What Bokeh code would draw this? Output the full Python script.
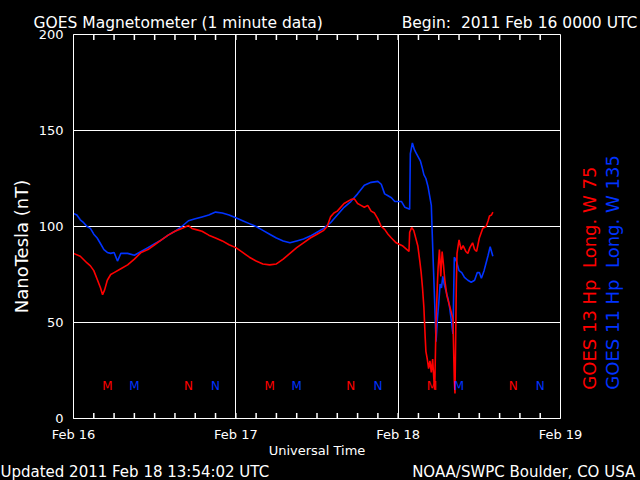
import math
from bokeh.plotting import figure
from bokeh.models import LinearAxis, FixedTicker, Range1d, ColumnDataSource, Title
from bokeh.core.properties import value
from bokeh.embed import file_html
from bokeh.resources import INLINE

# ---------------- data (hours since 2011 Feb 16 00:00 UTC, nT) ----------------
red_t = [0, 1, 2, 2.5, 3.0, 3.5, 4.0, 4.3, 4.6, 5.0, 5.5, 6.0, 7.0, 8.0, 9.0, 10.0,
         11.0, 12.0, 13.0, 14.0, 15.0, 16.0, 17.0, 17.5, 18.0, 19.0, 20.0, 21.0, 22.0,
         23.0, 24.0, 25.0, 26.0, 27.0, 28.0, 29.0, 30.0, 31.0, 32.0, 33.0, 34.0, 35.0,
         36.0, 37.0, 37.5, 38.0, 38.5, 39.0, 40.0, 41.0, 41.5, 42.0, 42.5, 43.0, 43.5,
         44.0, 44.5, 45.0, 45.5, 46.0, 46.5, 47.0, 47.7, 48.7, 49.6, 49.7, 50.0, 50.3,
         50.9, 51.2, 51.4, 51.6, 51.8, 52.0, 52.1, 52.3, 52.5, 52.7, 52.9, 53.1, 53.3,
         53.4, 53.6, 53.8, 53.9, 54.1, 54.3, 54.5, 54.7, 54.9, 55.2, 55.5, 55.8, 56.1,
         56.3, 56.4, 56.6, 56.7, 57.0, 57.3, 57.6, 58.0, 58.3, 58.6, 59.0, 59.3, 59.6,
         60.0, 60.5, 61.0, 61.3, 61.5, 61.8, 62.0]
red_v = [86, 84.5, 81, 79.5, 77, 72.5, 68, 64.5, 67, 72, 75, 76, 78, 80, 83, 86.5,
         88, 90.5, 93, 95.5, 97.5, 99, 100.5, 99, 98.5, 97.5, 95.5, 94, 92.5,
         90.5, 89, 86.5, 84, 82, 80.5, 80, 80.5, 83, 86, 89, 91.5, 94,
         96, 98, 100, 105, 107, 108, 112, 114, 114.5, 112, 111, 110, 111,
         108, 107, 104, 100, 98.5, 96, 94, 91.5, 89.8, 87, 97, 99.5, 98,
         90, 82, 76, 68, 58, 42, 35, 31, 26, 30, 24, 31, 19,
         15, 50, 70, 78, 88, 74, 87, 80, 72, 64, 60, 56, 52,
         20, 13, 70, 86, 93, 88, 90, 87, 86, 89, 91.5, 88, 87,
         94, 99, 100, 103, 105.5, 106, 107.5]

blue_t = [0, 0.5, 1, 1.5, 2, 2.5, 3, 3.5, 4, 4.5, 5, 5.5, 6, 6.5, 7, 8, 9, 10, 11,
          12, 13, 14, 15, 16, 17, 18, 19, 20, 21, 22, 23, 24, 25, 26, 27, 28, 29, 30,
          31, 32, 33, 34, 35, 36, 37, 38, 39, 40, 41, 42, 43, 44, 45, 45.5, 46, 46.5,
          47, 47.5, 48, 48.5, 49, 49.7, 49.8, 50.1, 50.4, 50.7, 51, 51.3, 51.6, 51.8,
          52.1, 52.4, 52.7, 52.9, 53.0, 53.2, 53.4, 53.6, 53.8, 54.0, 54.2, 54.4, 54.6,
          54.8, 55.1, 55.4, 55.6, 55.9, 56.1, 56.3, 56.6, 57.0, 57.4, 57.8, 58.3, 58.8,
          59.3, 59.7, 60.0, 60.3, 60.7, 61.0, 61.3, 61.6, 62.0]
blue_v = [106.8, 106, 103.5, 102, 100, 99, 96, 94, 91, 88, 86.5, 86, 86.5, 82, 86, 86,
          85, 87, 89, 91, 93, 95.5, 97.5, 100, 103, 104, 105, 106, 107.5, 107, 106,
          104.5, 103, 101.5, 100, 98, 96, 94, 92.5, 91.5, 92.5, 93.5, 95, 97, 99, 102,
          106, 110, 113, 117, 121.5, 123, 123.5, 122, 117, 116, 115, 113, 113, 113, 110,
          109, 138, 143.5, 140, 138, 136, 134, 130, 127, 125, 121, 115, 111, 100, 80,
          60, 40, 52, 60, 70, 68, 74, 70, 66, 62, 58, 50, 44, 84, 82, 77, 76, 73.5,
          72, 71, 72, 76, 76, 73, 77, 81, 85, 89.5, 84.5]

# local midnight (M) / noon (N) markers
mark_t = [5, 9, 17, 21, 29, 33, 41, 45, 53, 57, 65, 69]
mark_txt = ["M", "M", "N", "N", "M", "M", "N", "N", "M", "M", "N", "N"]
mark_sat = ["GOES 13", "GOES 11"] * 6
mark_y = 17

day_ticks = [0, 24, 48, 72]
day_labels = ["Feb 16", "Feb 17", "Feb 18", "Feb 19"]
minor_x = list(range(3, 72, 3))
y_ticks = [0, 50, 100, 150, 200]

title_left = "GOES Magnetometer (1 minute data)"
title_right = "Begin:\u00a0 2011 Feb 16 0000 UTC"
foot_left = "Updated 2011 Feb 18 13:54:02 UTC"
foot_right = "NOAA/SWPC Boulder, CO USA"
y_label = "NanoTesla (nT)"
x_label = "Universal Time"
sat13_label = "GOES 13 Hp\u00a0 Long. W 75"
sat11_label = "GOES 11 Hp\u00a0 Long. W 135"

RED = "#ff0000"
BLUE = "#0033ff"
FONT = "DejaVu Sans"
NB = "\u00a0"

# ---------------- figure ----------------
L, R, T, B = 73, 80, 34, 62
W, H = 640, 480
p = figure(width=W, height=H, x_range=Range1d(0, 72), y_range=Range1d(0, 200),
           output_backend="svg", toolbar_location=None,
           min_border_left=L, min_border_right=R, min_border_top=T, min_border_bottom=B,
           background_fill_color="black", border_fill_color="black",
           outline_line_color="white", outline_line_width=1)

# top title line (title + begin time on one row)
p.title.text = title_left + NB * 16 + title_right
p.title.align = "left"
p.title.offset = -40
p.title.text_color = "white"
p.title.text_font = FONT
p.title.text_font_style = "normal"
p.title.text_font_size = "15.5px"
p.title.standoff = 6

# axes
p.xaxis.ticker = FixedTicker(ticks=day_ticks, minor_ticks=[])
p.xaxis.major_label_overrides = {t: s for t, s in zip(day_ticks, day_labels)}
xa = p.xaxis[0]
xa.axis_line_color = "white"
xa.major_tick_line_color = None
xa.minor_tick_line_color = None
xa.major_label_text_color = "white"
xa.major_label_text_font = FONT
xa.major_label_text_font_size = "13px"
xa.major_label_standoff = 2
xa.axis_label = x_label
xa.axis_label_text_color = "white"
xa.axis_label_text_font = FONT
xa.axis_label_text_font_style = "normal"
xa.axis_label_text_font_size = "13px"
xa.axis_label_standoff = -2

p.yaxis.ticker = FixedTicker(ticks=y_ticks, minor_ticks=[])
ya = p.yaxis[0]
ya.axis_line_color = "white"
ya.major_tick_line_color = None
ya.minor_tick_line_color = None
ya.major_label_text_color = "white"
ya.major_label_text_font = FONT
ya.major_label_text_font_size = "13px"
ya.major_label_standoff = 4
ya.axis_label = y_label + NB * 7
ya.axis_label_text_color = "white"
ya.axis_label_text_font = FONT
ya.axis_label_text_font_style = "normal"
ya.axis_label_text_font_size = "18px"
ya.axis_label_standoff = 4

# right-hand satellite labels: one vertical tick label per axis, starting near the bottom
sat_start = 15
for lbl, col, standoff in [(sat13_label, RED, 29), (sat11_label, BLUE, -1)]:
    ax = LinearAxis(ticker=FixedTicker(ticks=[sat_start], minor_ticks=[]),
                    axis_line_color=None, major_tick_line_color=None,
                    minor_tick_line_color=None, major_tick_out=0, major_tick_in=0,
                    minor_tick_out=0, minor_tick_in=0,
                    major_label_overrides={sat_start: lbl},
                    major_label_orientation=math.pi / 2,
                    major_label_text_color=col, major_label_text_font=FONT,
                    major_label_text_font_size="18px", major_label_standoff=standoff)
    p.add_layout(ax, "right")

# footer line
foot = Title(text=foot_left + NB * 30 + foot_right, align="left", offset=-73,
             text_color="white", text_font=FONT, text_font_style="normal",
             text_font_size="15px", standoff=0)
p.add_layout(foot, "below")

p.xgrid.ticker = FixedTicker(ticks=day_ticks)
p.ygrid.ticker = FixedTicker(ticks=y_ticks)
p.xgrid.grid_line_color = "white"
p.ygrid.grid_line_color = "white"
p.xgrid.grid_line_width = 1
p.ygrid.grid_line_width = 1

# inward minor ticks on bottom and top edges (every 3 h)
tick_len = 2.8  # data units
ticks = ColumnDataSource(dict(x=minor_x + minor_x,
                              y0=[0] * len(minor_x) + [200] * len(minor_x),
                              y1=[tick_len] * len(minor_x) + [200 - tick_len] * len(minor_x)))
p.segment(x0="x", y0="y0", x1="x", y1="y1", source=ticks, line_color="white", line_width=1.5)

# series
p.line(blue_t, blue_v, line_color=BLUE, line_width=1.6)
p.line(red_t, red_v, line_color=RED, line_width=1.6)

src = ColumnDataSource(dict(x=mark_t, y=[mark_y] * len(mark_t), text=mark_txt,
                            color=[RED if s == "GOES 13" else BLUE for s in mark_sat]))
p.text(x="x", y="y", text="text", text_color="color", source=src,
       text_align="center", text_baseline="middle", text_font=value(FONT),
       text_font_size="12px")

html = file_html(p, INLINE)
html = html.replace("<head>", "<head><style>html,body{background:#000;margin:0;}</style>", 1)
open("out.html", "w").write(html)
